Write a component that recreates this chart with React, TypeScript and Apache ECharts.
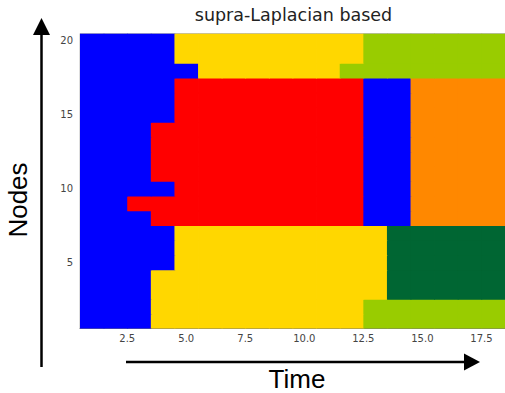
import React, { useEffect, useRef } from "react";
import * as echarts from "echarts";

// Time steps (x) and nodes (y)
const timeSteps = [1, 2, 3, 4, 5, 6, 7, 8, 9, 10, 11, 12, 13, 14, 15, 16, 17, 18];
const nodes = [1, 2, 3, 4, 5, 6, 7, 8, 9, 10, 11, 12, 13, 14, 15, 16, 17, 18, 19, 20];

// Community colours: 0 blue, 1 yellow, 2 yellow-green, 3 red, 4 orange, 5 dark green
const communityColors = ["#0000ff", "#ffd700", "#99cc00", "#ff0000", "#ff8800", "#006633"];

// Community assignment per node (index 0 = node 1), one value per time step
const node01 = [0, 0, 0, 1, 1, 1, 1, 1, 1, 1, 1, 1, 2, 2, 2, 2, 2, 2];
const node02 = [0, 0, 0, 1, 1, 1, 1, 1, 1, 1, 1, 1, 2, 2, 2, 2, 2, 2];
const node03 = [0, 0, 0, 1, 1, 1, 1, 1, 1, 1, 1, 1, 1, 5, 5, 5, 5, 5];
const node04 = [0, 0, 0, 1, 1, 1, 1, 1, 1, 1, 1, 1, 1, 5, 5, 5, 5, 5];
const node05 = [0, 0, 0, 0, 1, 1, 1, 1, 1, 1, 1, 1, 1, 5, 5, 5, 5, 5];
const node06 = [0, 0, 0, 0, 1, 1, 1, 1, 1, 1, 1, 1, 1, 5, 5, 5, 5, 5];
const node07 = [0, 0, 0, 0, 1, 1, 1, 1, 1, 1, 1, 1, 1, 5, 5, 5, 5, 5];
const node08 = [0, 0, 0, 3, 3, 3, 3, 3, 3, 3, 3, 3, 0, 0, 4, 4, 4, 4];
const node09 = [0, 0, 3, 3, 3, 3, 3, 3, 3, 3, 3, 3, 0, 0, 4, 4, 4, 4];
const node10 = [0, 0, 0, 0, 3, 3, 3, 3, 3, 3, 3, 3, 0, 0, 4, 4, 4, 4];
const node11 = [0, 0, 0, 3, 3, 3, 3, 3, 3, 3, 3, 3, 0, 0, 4, 4, 4, 4];
const node12 = [0, 0, 0, 3, 3, 3, 3, 3, 3, 3, 3, 3, 0, 0, 4, 4, 4, 4];
const node13 = [0, 0, 0, 3, 3, 3, 3, 3, 3, 3, 3, 3, 0, 0, 4, 4, 4, 4];
const node14 = [0, 0, 0, 3, 3, 3, 3, 3, 3, 3, 3, 3, 0, 0, 4, 4, 4, 4];
const node15 = [0, 0, 0, 0, 3, 3, 3, 3, 3, 3, 3, 3, 0, 0, 4, 4, 4, 4];
const node16 = [0, 0, 0, 0, 3, 3, 3, 3, 3, 3, 3, 3, 0, 0, 4, 4, 4, 4];
const node17 = [0, 0, 0, 0, 3, 3, 3, 3, 3, 3, 3, 3, 0, 0, 4, 4, 4, 4];
const node18 = [0, 0, 0, 0, 0, 1, 1, 1, 1, 1, 1, 2, 2, 2, 2, 2, 2, 2];
const node19 = [0, 0, 0, 0, 1, 1, 1, 1, 1, 1, 1, 1, 2, 2, 2, 2, 2, 2];
const node20 = [0, 0, 0, 0, 1, 1, 1, 1, 1, 1, 1, 1, 2, 2, 2, 2, 2, 2];

const assignments = [
  node01, node02, node03, node04, node05, node06, node07, node08, node09, node10,
  node11, node12, node13, node14, node15, node16, node17, node18, node19, node20,
];

const xTickValues = [2.5, 5, 7.5, 10, 12.5, 15, 17.5];
const yTickValues = [5, 10, 15, 20];

export default function App() {
  const ref = useRef<HTMLDivElement>(null);

  useEffect(() => {
    if (!ref.current) return;
    const chart = echarts.init(ref.current, null, { renderer: "svg" });

    const data: number[][] = [];
    nodes.forEach((n, i) => {
      timeSteps.forEach((t, j) => {
        data.push([t, n, assignments[i][j]]);
      });
    });

    const tickFont = { fontFamily: "DejaVu Sans", fontSize: 10, color: "#444" };

    chart.setOption({
      animation: false,
      grid: {
        left: 80,
        top: 33.5,
        width: 427,
        height: 295,
        show: true,
        borderColor: "#bbb",
        borderWidth: 1,
        backgroundColor: "transparent",
      },
      xAxis: {
        type: "value",
        min: 0.5,
        max: 18.5,
        splitLine: { show: false },
        axisLine: { show: true, onZero: false, lineStyle: { color: "#777", width: 1 } },
        axisTick: { show: false },
        axisLabel: {
          ...tickFont,
          margin: 5,
          customValues: xTickValues,
          formatter: (v: number) => v.toFixed(1),
        },
      },
      yAxis: {
        type: "value",
        min: 0.5,
        max: 20.5,
        splitLine: { show: false },
        axisLine: { show: false },
        axisTick: { show: false },
        axisLabel: {
          ...tickFont,
          margin: 7,
          customValues: yTickValues,
          formatter: (v: number) => String(v),
        },
      },
      series: [
        {
          type: "custom",
          clip: true,
          data,
          renderItem: (params: any, api: any) => {
            const t = api.value(0);
            const n = api.value(1);
            const c = api.value(2);
            const p1 = api.coord([t - 0.5, n + 0.5]);
            const p2 = api.coord([t + 0.5, n - 0.5]);
            const col = communityColors[c];
            return {
              type: "rect",
              shape: {
                x: p1[0],
                y: p1[1],
                width: p2[0] - p1[0] + 0.8,
                height: p2[1] - p1[1] + 0.8,
              },
              style: { fill: col },
            };
          },
          z: 1,
        },
      ],
      graphic: [
        {
          type: "text",
          x: 293.5,
          y: 15,
          style: {
            text: "supra-Laplacian based",
            fontFamily: "DejaVu Sans",
            fontSize: 17.5,
            fill: "#222",
            align: "center",
            verticalAlign: "middle",
          },
        },
        {
          type: "line",
          shape: { x1: 41.5, y1: 33, x2: 41.5, y2: 367 },
          style: { stroke: "#000", lineWidth: 2.5 },
        },
        {
          type: "polygon",
          shape: { points: [[41.5, 18], [33, 35], [50, 35]] },
          style: { fill: "#000" },
        },
        {
          type: "line",
          shape: { x1: 126, y1: 362, x2: 466, y2: 362 },
          style: { stroke: "#000", lineWidth: 2.5 },
        },
        {
          type: "polygon",
          shape: { points: [[480, 362], [464, 353.5], [464, 370.5]] },
          style: { fill: "#000" },
        },
        {
          type: "text",
          x: 18,
          y: 200,
          rotation: Math.PI / 2,
          style: {
            text: "Nodes",
            fontFamily: "Liberation Sans",
            fontSize: 26,
            fill: "#000",
            align: "center",
            verticalAlign: "middle",
          },
        },
        {
          type: "text",
          x: 297,
          y: 379,
          style: {
            text: "Time",
            fontFamily: "Liberation Sans",
            fontSize: 26,
            lineHeight: 26,
            fill: "#000",
            align: "center",
            verticalAlign: "middle",
          },
        },
      ],
    });

    return () => chart.dispose();
  }, []);

  return (
    <div
      ref={ref}
      style={{ position: "fixed", left: 0, top: 0, width: 505, height: 393, background: "#fff" }}
    />
  );
}
